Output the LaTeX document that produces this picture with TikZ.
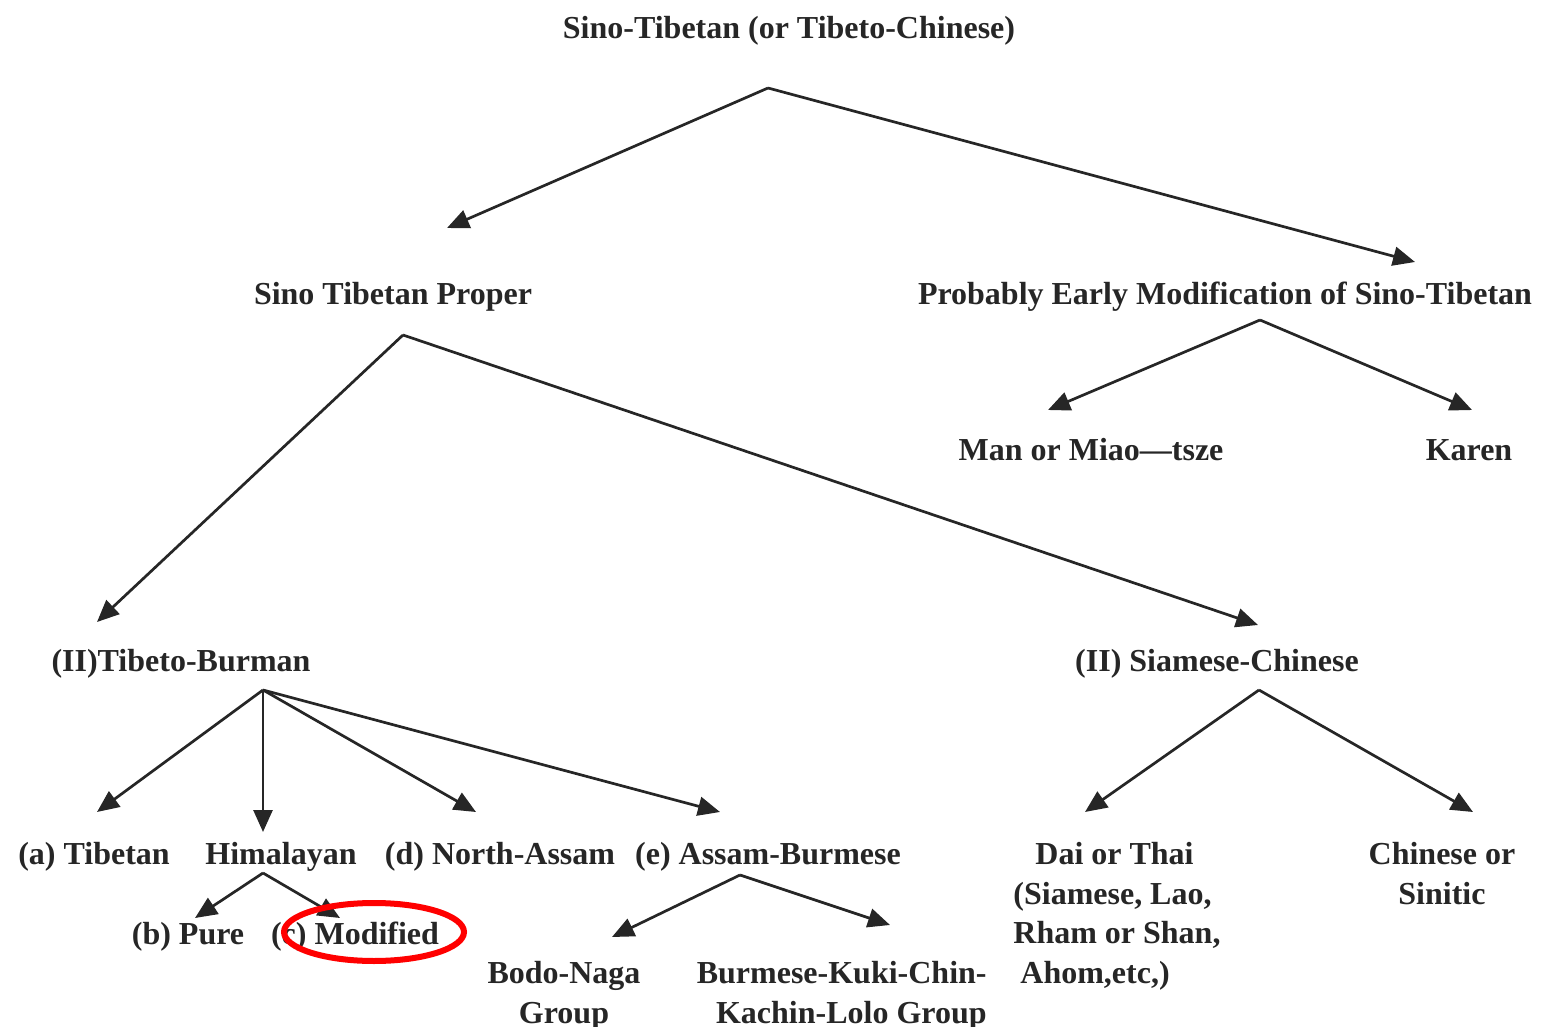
\documentclass[tikz,border=0pt]{standalone}
\usepackage{fontspec}
\setmainfont{Liberation Serif}
\usetikzlibrary{arrows.meta}
\definecolor{ink}{HTML}{262626}
\tikzset{
  lbl/.style={font=\fontsize{16}{19.8}\selectfont\bfseries, text=ink, inner sep=0pt, anchor=center, yshift=-2pt},
  arr/.style={draw=ink, line width=1.35pt, -{Triangle[length=11pt,width=9.5pt]}},
}
\begin{document}
\begin{tikzpicture}[x=0.5pt,y=-0.5pt]
\useasboundingbox (0,0) rectangle (1543,1027);
% labels
\node[lbl] (root) at (789,27) {Sino-Tibetan (or Tibeto-Chinese)};
\node[lbl] (stp) at (393,293) {Sino Tibetan Proper};
\node[lbl] (pem) at (1225,293) {Probably Early Modification of Sino-Tibetan};
\node[lbl] (man) at (1091,446) {Man or Miao---tsze};
\node[lbl] (karen) at (1469,446) {Karen};
\node[lbl] (tb) at (181,660) {(II)Tibeto-Burman};
\node[lbl] (sc) at (1217,660) {(II) Siamese-Chinese};
\node[lbl] (tib) at (94,853) {(a) Tibetan};
\node[lbl] (him) at (281,853) {Himalayan};
\node[lbl] (na) at (500,853) {(d) North-Assam};
\node[lbl] (ab) at (768,853) {(e) Assam-Burmese};
\node[lbl, align=left, anchor=north west] (dai) at (1013,838) {\hspace*{11pt}Dai or Thai\\(Siamese, Lao,\\Rham or Shan,\\\hspace*{3.5pt}Ahom,etc,)};
\node[lbl, align=center, anchor=north] (chi) at (1442,838) {Chinese or\\Sinitic};
\node[lbl] (pure) at (188,933) {(b) Pure};
\node[lbl] (mod) at (355,933) {(c) Modified};
\node[lbl, align=center, anchor=north] (bodo) at (564,957) {Bodo-Naga\\Group};
\node[lbl, align=right, anchor=north east] (bkc) at (987,957) {Burmese-Kuki-Chin-\\Kachin-Lolo Group};
% apex and tip coordinates
\coordinate (rootA) at (768,88);
\coordinate (stpT) at (447,228);
\coordinate (pemT) at (1415,262);
\coordinate (stpA) at (403,335);
\coordinate (tbT) at (97,622);
\coordinate (scT) at (1258,625);
\coordinate (pemA) at (1260,320);
\coordinate (manT) at (1048,410);
\coordinate (karT) at (1472,410);
\coordinate (tbA) at (263,690);
\coordinate (tibT) at (97,812);
\coordinate (himT) at (263,832);
\coordinate (naT) at (476,812);
\coordinate (abT) at (720,812);
\coordinate (scA) at (1259,690);
\coordinate (daiT) at (1085,812);
\coordinate (chiT) at (1473,812);
\coordinate (himA) at (263,873);
\coordinate (pureT) at (195,918);
\coordinate (modT) at (340,918);
\coordinate (abA) at (740,875);
\coordinate (bodoT) at (612,937);
\coordinate (bkcT) at (890,925);
% connectors
\draw[arr] (rootA) -- (stpT);
\draw[arr] (rootA) -- (pemT);
\draw[arr] (stpA) -- (tbT);
\draw[arr] (stpA) -- (scT);
\draw[arr] (pemA) -- (manT);
\draw[arr] (pemA) -- (karT);
\draw[arr] (tbA) -- (tibT);
\draw[arr] (tbA) -- (himT);
\draw[arr] (tbA) -- (naT);
\draw[arr] (tbA) -- (abT);
\draw[arr] (scA) -- (daiT);
\draw[arr] (scA) -- (chiT);
\draw[arr] (himA) -- (pureT);
\draw[arr] (himA) -- (modT);
\draw[arr] (abA) -- (bodoT);
\draw[arr] (abA) -- (bkcT);
% red highlight
\draw[red, line width=3pt] (374,932) ellipse [x radius=90, y radius=29];
\end{tikzpicture}
\end{document}
